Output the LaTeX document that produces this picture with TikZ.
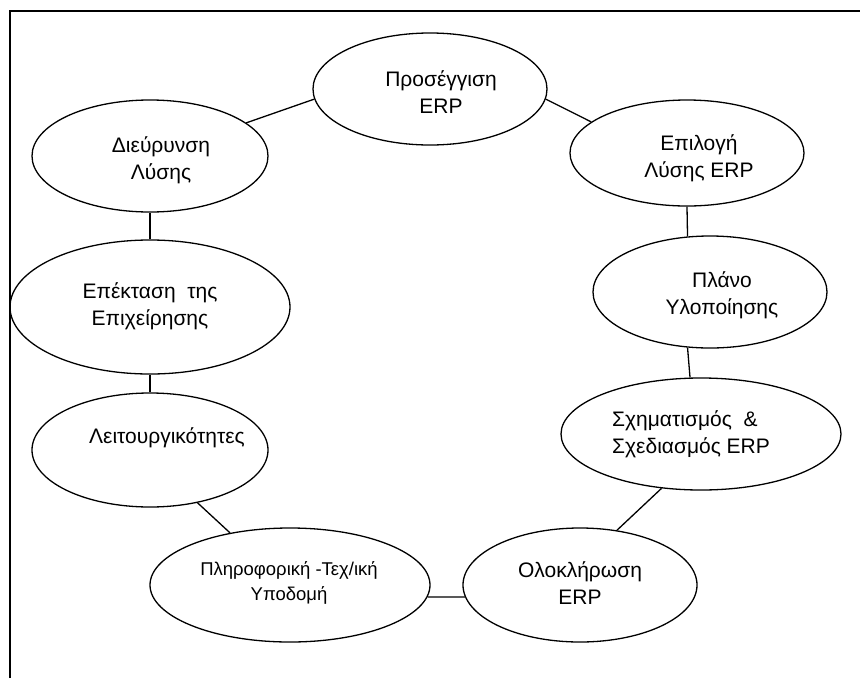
\documentclass[tikz,border=0pt]{standalone}
\usepackage{fontspec}
\setmainfont{Liberation Sans}
\usetikzlibrary{shapes.geometric}

\tikzset{
  oval/.style 2 args={ellipse, draw, line width=1.3pt, inner sep=0pt,
    minimum width=#1pt, minimum height=#2pt},
  txt/.style={align=center, font=\fontsize{21}{27}\selectfont, inner sep=0pt},
  smalltxt/.style={align=center, font=\fontsize{18.5}{25}\selectfont, inner sep=0pt},
  link/.style={line width=1.3pt},
  frame/.style={line width=1.8pt}
}

\begin{document}
\begin{tikzpicture}[x=1pt, y=-1pt]
  \useasboundingbox (0,0) rectangle (860,678);

  % open frame: left and top edges only
  \coordinate (fbl) at (10,678);
  \coordinate (ftl) at (10,11);
  \coordinate (ftr) at (860,11);
  \draw[frame] (fbl) -- (ftl) -- (ftr);

  % the nine stages of the cycle
  \node[oval={234}{112}] (appr) at (430,89) {};
  \node[txt] (tappr) at (441,92) {Προσέγγιση\\ERP};

  \node[oval={234}{106}] (sel) at (687,153) {};
  \node[txt] (tsel) at (699,158) {Επιλογή\\Λύσης ERP};

  \node[oval={234}{112}] (plan) at (710,292) {};
  \node[txt] (tplan) at (722,295) {Πλάνο\\Υλοποίησης};

  \node[oval={280}{112}] (design) at (701,434) {};
  \node[txt, align=left, anchor=west] (tdesign) at (612,434) {Σχηματισμός~~\&\\Σχεδιασμός ERP};

  \node[oval={234}{114}] (integ) at (580,585) {};
  \node[txt] (tinteg) at (580,583) {Ολοκλήρωση\\ERP};

  \node[oval={280}{114}] (infra) at (290,585) {};
  \node[smalltxt] (tinfra) at (289,583) {Πληροφορική -Τεχ/ική\\Υποδομή};

  \node[oval={236}{114}] (func) at (150,450) {};
  \node[txt] (tfunc) at (167,438) {Λειτουργικότητες};

  \node[oval={280}{134}] (expand) at (150,307) {};
  \node[txt] (texpand) at (150,306) {Επέκταση~~της\\Επιχείρησης};

  \node[oval={236}{112}] (widen) at (150,156) {};
  \node[txt] (twiden) at (161,160) {Διεύρυνση\\Λύσης};

  % connectors between neighbouring stages
  \draw[link] (widen.19) -- (appr.185);
  \draw[link] (appr.355) -- (sel.162);
  \draw[link] (sel.270) -- (plan.112);
  \draw[link] (plan.248) -- (design.101);
  \draw[link] (design.234) -- (integ.56);
  \draw[link] (integ.186) -- (infra.355);
  \draw[link] (infra.139) -- (func.312);
  \draw[link] (func.90) -- (expand.270);
  \draw[link] (expand.90) -- (widen.270);
\end{tikzpicture}
\end{document}
